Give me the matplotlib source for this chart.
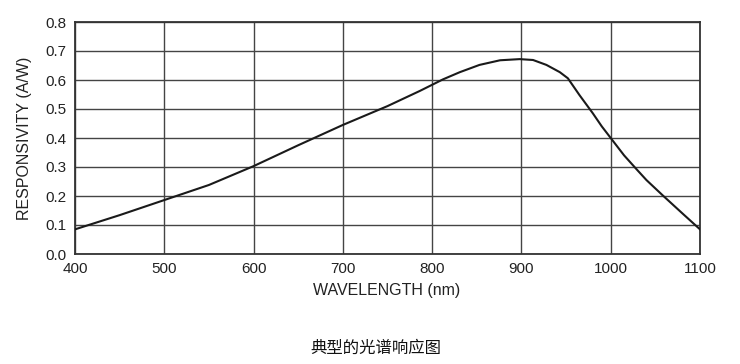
import matplotlib
matplotlib.use('Agg')
import matplotlib.pyplot as plt

wavelength = [400, 450, 500, 550, 600, 650, 700, 750, 786, 801, 812, 831,
              853, 876, 898, 913, 928, 943, 952, 965, 980, 990, 1000, 1015,
              1029, 1040, 1059, 1081, 1100]
responsivity = [0.085, 0.134, 0.186, 0.238, 0.303, 0.375, 0.445, 0.510, 0.562,
                0.585, 0.602, 0.627, 0.652, 0.668, 0.672, 0.669, 0.652, 0.627,
                0.606, 0.548, 0.485, 0.440, 0.400, 0.340, 0.292, 0.255, 0.200,
                0.138, 0.085]
xticks = [400, 500, 600, 700, 800, 900, 1000, 1100]
yticks = [0.0, 0.1, 0.2, 0.3, 0.4, 0.5, 0.6, 0.7, 0.8]

plt.rcParams['font.family'] = ['Liberation Sans', 'DejaVu Sans']

fig = plt.figure(figsize=(7.4, 3.64), dpi=100)
fig.patch.set_facecolor('white')
ax = fig.add_axes([75 / 740, 1 - 254 / 364, 625 / 740, 232 / 364])

ax.plot(wavelength, responsivity, color='#1a1a1a', linewidth=1.5,
        solid_joinstyle='round', zorder=3)
ax.set_xlim(400, 1100)
ax.set_ylim(0, 0.8)
ax.set_xticks(xticks)
ax.set_yticks(yticks)
ax.set_xticklabels([str(x) for x in xticks])
ax.set_yticklabels([f'{y:.1f}' for y in yticks])
ax.tick_params(length=0, labelsize=11, colors='#222222', pad=6)
ax.grid(True, color='#444444', linewidth=1.0, zorder=1)
for s in ax.spines.values():
    s.set_color('#333333')
    s.set_linewidth(1.3)

# axis titles placed by pixel centre
fig.text(387 / 740, 1 - 291 / 364, 'WAVELENGTH (nm)', ha='center', va='center',
         fontsize=11.5, color='#222222')
fig.text(25 / 740, 1 - 138 / 364, 'RESPONSIVITY (A/W)', ha='center', va='center',
         rotation=90, fontsize=11.5, color='#222222')

fig.text(376 / 740, 1 - 348 / 364, '典型的光谱响应图', ha='center', va='center',
         fontsize=11.8, color='#111111', family=['Noto Sans CJK SC', 'DejaVu Sans'])

fig.savefig('out.png', dpi=100, facecolor='white')
